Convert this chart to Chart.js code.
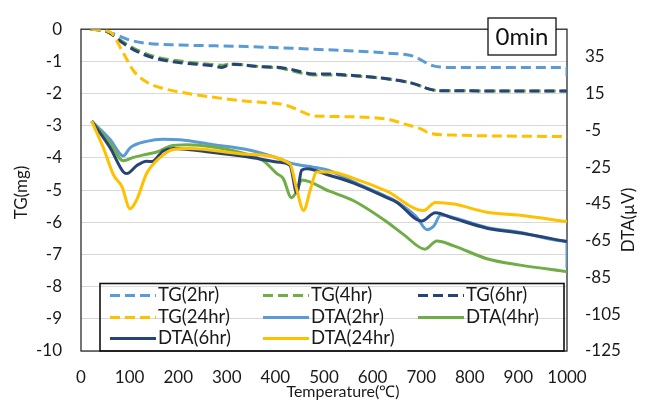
<!DOCTYPE html>
<html><head><meta charset="utf-8">
<script src="https://cdn.jsdelivr.net/npm/chart.js@4.4.1/dist/chart.umd.min.js"></script>
<style>html,body{margin:0;padding:0;background:#fff;overflow:hidden}</style>
</head><body>
<canvas id="c" width="648" height="413"></canvas>
<script>
// ---- data (temperature in °C, TG in mg, DTA in µV) ----
const TG2_T  = [20, 40, 66, 101, 135, 204, 341, 506, 629, 684, 725, 766, 1000, 1000];
const TG2_V  = [0, -0.03, -0.14, -0.34, -0.44, -0.49, -0.54, -0.64, -0.74, -0.84, -1.14, -1.19, -1.19, -1.5];
const TG4_T  = [20, 50, 87, 115, 149, 204, 272, 290, 307, 375, 410, 444, 478, 506, 561, 629, 684, 719, 739, 1000];
const TG4_V  = [0, -0.05, -0.40, -0.64, -0.84, -0.99, -1.10, -1.12, -1.08, -1.17, -1.21, -1.33, -1.42, -1.42, -1.45, -1.54, -1.69, -1.87, -1.91, -1.92];
const TG6_T  = [20, 50, 87, 115, 149, 204, 272, 290, 307, 375, 410, 444, 478, 506, 561, 629, 684, 719, 739, 1000];
const TG6_V  = [0, -0.05, -0.44, -0.69, -0.89, -1.04, -1.14, -1.19, -1.09, -1.17, -1.19, -1.29, -1.39, -1.39, -1.44, -1.54, -1.69, -1.87, -1.91, -1.92];
const TG24_T = [20, 60, 87, 108, 135, 169, 238, 341, 424, 451, 478, 506, 629, 664, 698, 719, 766, 1000];
const TG24_V = [0, -0.09, -0.74, -1.29, -1.64, -1.84, -2.04, -2.24, -2.37, -2.54, -2.69, -2.71, -2.79, -2.94, -3.09, -3.24, -3.29, -3.34];

const DTA2_T  = [22, 60, 87, 101, 135, 169, 204, 272, 341, 410, 427, 444, 478, 509, 561, 629, 650, 690, 712, 726, 740, 767, 835, 904, 1000, 1000];
const DTA2_V  = [0, -10, -18.9, -14.5, -11, -9.8, -10.1, -12.8, -15.4, -20.6, -22.4, -23.6, -25, -26.7, -33, -41, -43.8, -52, -59, -57, -51, -52.5, -57.8, -60.5, -65.3, -80];
const DTA4_T  = [22, 60, 87, 108, 135, 156, 183, 218, 272, 341, 375, 403, 416, 433, 444, 454, 511, 561, 629, 664, 708, 732, 767, 835, 904, 1000];
const DTA4_V  = [0, -12, -21.5, -19.7, -18, -16.8, -13.6, -12.8, -14.1, -18, -21.5, -28.5, -31.1, -41.6, -38.1, -32, -38.1, -43.3, -54.7, -61.7, -69.6, -65.2, -67.8, -74.8, -78.3, -81.8];
const DTA6_T  = [22, 60, 87, 94, 115, 135, 146, 169, 190, 272, 341, 410, 430, 444, 454, 465, 509, 561, 629, 650, 701, 729, 767, 835, 904, 1000];
const DTA6_V  = [0, -14.5, -27.6, -28.5, -24.1, -21.8, -22, -16.2, -14.9, -17.1, -19.4, -22.4, -24.1, -39, -26.7, -25.9, -29.3, -33.7, -41.6, -44.2, -54.3, -49.8, -52.9, -58.2, -60.8, -65.5];
const DTA24_T = [22, 46, 67, 84, 101, 115, 135, 163, 190, 224, 341, 430, 444, 458, 472, 485, 513, 561, 629, 705, 729, 767, 835, 904, 1000];
const DTA24_V = [0, -14.5, -29.3, -35.5, -47.7, -42.5, -28.5, -19.7, -15.4, -14.9, -18, -23.3, -37.2, -48.6, -37.2, -27.6, -27.6, -31.1, -38.1, -48.6, -44.2, -45.1, -49.5, -51.2, -54.7];

const SERIES_LABELS = ['TG(2hr)', 'TG(4hr)', 'TG(6hr)', 'TG(24hr)', 'DTA(2hr)', 'DTA(4hr)', 'DTA(6hr)', 'DTA(24hr)'];
const TG_TICKS  = [0, -1, -2, -3, -4, -5, -6, -7, -8, -9, -10];
const DTA_TICKS = [35, 15, -5, -25, -45, -65, -85, -105, -125];
const X_TICKS   = [0, 100, 200, 300, 400, 500, 600, 700, 800, 900, 1000];
const BADGE = '0min';

// ---- styling ----
const FONT = 'Lato, "Open Sans", sans-serif';
const C_LB = '#5B9BD5', C_GR = '#70AD47', C_NV = '#264478', C_YL = '#FFC000';
const colors = [C_LB, C_GR, C_NV, C_YL, C_LB, C_GR, C_NV, C_YL];
const DASH = [10, 5];
const TXT = '#1a1a1a';

function pts(T, V) { return T.map((t, i) => ({x: t, y: V[i]})); }
const raw = [[TG2_T,TG2_V],[TG4_T,TG4_V],[TG6_T,TG6_V],[TG24_T,TG24_V],
             [DTA2_T,DTA2_V],[DTA4_T,DTA4_V],[DTA6_T,DTA6_V],[DTA24_T,DTA24_V]];

const datasets = raw.map((r, i) => ({
  label: SERIES_LABELS[i],
  data: pts(r[0], r[1]),
  yAxisID: i < 4 ? 'y' : 'y2',
  borderColor: colors[i],
  backgroundColor: colors[i],
  borderWidth: 3,
  borderDash: i < 4 ? DASH : [],
  pointRadius: 0,
  fill: false,
  cubicInterpolationMode: 'monotone',
  order: 10 - i
}));

const PLOT = {left: 81, right: 567, top: 17, bottom: 351};

const deco = {
  id: 'deco',
  beforeDatasetsDraw(chart) {
    const ctx = chart.ctx, a = chart.chartArea;
    ctx.save();
    ctx.strokeStyle = '#2b2b2b';
    ctx.lineWidth = 1.3;
    ctx.strokeRect(a.left, a.top, a.right - a.left, a.bottom - a.top);
    ctx.restore();
  },
  afterDraw(chart) {
    const ctx = chart.ctx, a = chart.chartArea;
    ctx.save();
    // legend box
    const lx = 100, ly = 283.5, lw = 464, lh = a.bottom - 283.5;
    ctx.strokeStyle = '#111';
    ctx.lineWidth = 1.6;
    ctx.strokeRect(lx, ly, lw, lh);
    const colX = [110, 263, 418];
    const rowY = [295.5, 317.5, 338.5];
    ctx.font = '18.5px ' + FONT;
    ctx.textBaseline = 'middle';
    ctx.textAlign = 'left';
    chart.data.datasets.forEach((ds, i) => {
      const cx = colX[i % 3], cy = rowY[Math.floor(i / 3)];
      ctx.strokeStyle = ds.borderColor;
      ctx.lineWidth = 3;
      ctx.setLineDash(ds.borderDash || []);
      ctx.beginPath(); ctx.moveTo(cx, cy); ctx.lineTo(cx + 46, cy); ctx.stroke();
      ctx.setLineDash([]);
      ctx.fillStyle = TXT;
      ctx.fillText(ds.label, cx + 48, cy);
    });
    // badge
    ctx.fillStyle = '#fff';
    ctx.fillRect(488, 18, 68, 37);
    ctx.strokeStyle = '#111';
    ctx.lineWidth = 1.3;
    ctx.strokeRect(488, 18, 68, 37);
    ctx.fillStyle = '#111';
    ctx.font = '24px ' + FONT;
    ctx.textAlign = 'center';
    ctx.fillText(BADGE, 522, 37.5);
    // axis titles
    ctx.font = '17px ' + FONT;
    ctx.fillStyle = TXT;
    ctx.save(); ctx.translate(22, 192.5); ctx.rotate(-Math.PI / 2); ctx.fillText('TG(mg)', 0, 0); ctx.restore();
    ctx.save(); ctx.translate(629, 220); ctx.rotate(-Math.PI / 2); ctx.fillText('DTA(µV)', 0, 0); ctx.restore();
    ctx.font = '16px ' + FONT;
    ctx.fillText('Temperature(℃)', 343, 392);
    ctx.restore();
  }
};

const tickFont = { family: FONT, size: 17 };
const plain = v => String(v);

new Chart(document.getElementById('c'), {
  type: 'line',
  data: { datasets },
  options: {
    responsive: false,
    animation: false,
    devicePixelRatio: 1,
    layout: { padding: { top: PLOT.top, left: 0, right: 0, bottom: 0 } },
    plugins: { legend: { display: false }, tooltip: { enabled: false } },
    scales: {
      x: {
        type: 'linear', min: 0, max: 1000,
        afterBuildTicks: s => { s.ticks = X_TICKS.map(v => ({value: v})); },
        afterFit: s => { s.height = 413 - PLOT.bottom; },
        grid: { display: false, drawTicks: false },
        border: { display: false },
        ticks: { font: tickFont, color: TXT, padding: 16, maxRotation: 0, callback: plain }
      },
      y: {
        position: 'left', min: -10, max: 0,
        afterBuildTicks: s => { s.ticks = TG_TICKS.map(v => ({value: v})); },
        afterFit: s => { s.width = PLOT.left; },
        grid: { color: '#d9d9d9', lineWidth: 1, drawTicks: false },
        border: { display: false },
        ticks: { font: tickFont, color: TXT, padding: 19, callback: plain }
      },
      y2: {
        position: 'right', min: -125, max: 50,
        afterBuildTicks: s => { s.ticks = DTA_TICKS.map(v => ({value: v})); },
        afterFit: s => { s.width = 648 - PLOT.right; },
        grid: { display: false, drawTicks: false },
        border: { display: false },
        ticks: { font: tickFont, color: TXT, padding: 18, callback: plain }
      }
    }
  },
  plugins: [deco]
});
</script>
</body></html>
